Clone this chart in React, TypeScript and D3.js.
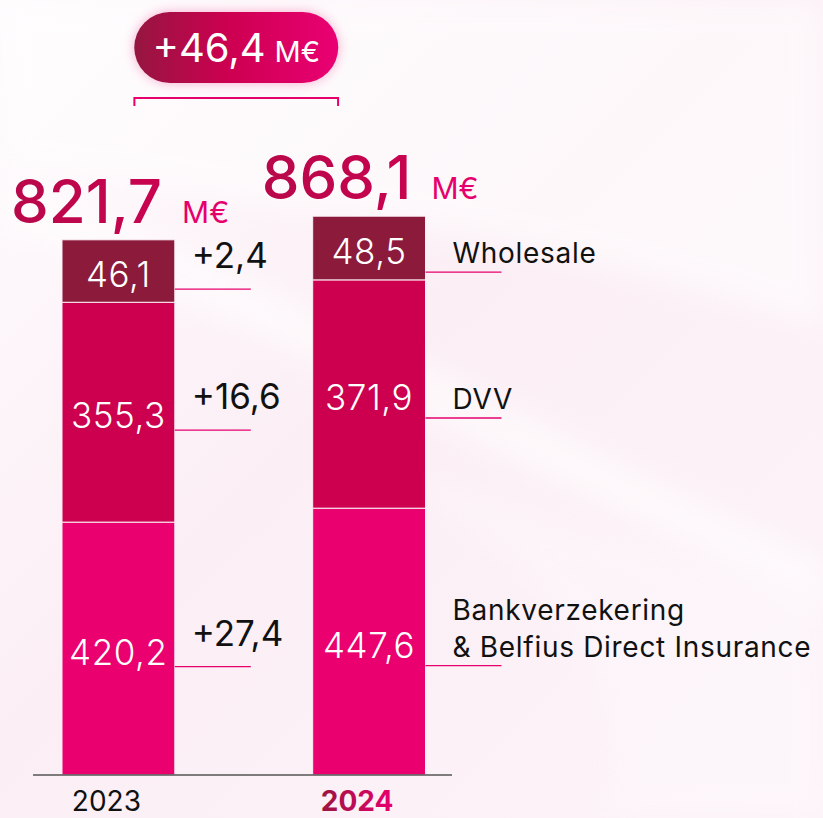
import React from "react";
import * as d3 from "d3";

const years = ["2023", "2024"];
const segmentNames = ["Bankverzekering & Belfius Direct Insurance", "DVV", "Wholesale"];
const bankValues = [420.2, 447.6];
const dvvValues = [355.3, 371.9];
const wholesaleValues = [46.1, 48.5];
const totals = [821.7, 868.1];
const unit = "M€";

const W = 823;
const H = 818;
const FONT = "Inter, 'Open Sans', sans-serif";
const segColors = ["#EA006F", "#CC004E", "#8B1A3B"];
const pink = "#E6006C";

const fmt = (v: number) => d3.format(".1f")(v).replace(".", ",");
const fmtDelta = (v: number) => (v >= 0 ? "+" : "") + fmt(v);

export default function App() {
  const baseY = 775;
  const x = d3.scaleBand<string>().domain(years).range([62, 425.5]).paddingInner(0.55).paddingOuter(0);
  const bw = x.bandwidth();
  // segment height scale (each segment gets a base height plus a proportional part)
  const h = d3.scaleLinear().domain([0, 500]).range([39, 293.5]);

  const seriesValues = [bankValues, dvvValues, wholesaleValues];
  const stacks = years.map((yr, i) => {
    let acc = baseY;
    return seriesValues.map((vals, s) => {
      const hh = h(vals[i]);
      const y1 = acc;
      const y0 = acc - hh;
      acc = y0;
      return { s, value: vals[i], y0, y1, mid: (y0 + y1) / 2 };
    });
  });
  const tops = stacks.map((st) => st[st.length - 1].y0);

  const c0 = (x(years[0]) as number) + bw / 2;
  const c1 = (x(years[1]) as number) + bw / 2;
  const brL = c0 + 16;
  const brR = c1 - 31;
  const badgeCx = (brL + brR) / 2;
  const totalDelta = totals[1] - totals[0];

  return (
    <svg width={W} height={H} style={{ position: "absolute", left: 0, top: 0, fontFamily: FONT }}>
      <defs>
        <linearGradient id="bg" x1="0" y1="0" x2="1" y2="1">
          <stop offset="0" stopColor="#FEFBFD" />
          <stop offset="0.45" stopColor="#FBEFF5" />
          <stop offset="1" stopColor="#FCF3F8" />
        </linearGradient>
        <linearGradient id="badge" x1="0" y1="0" x2="1" y2="0">
          <stop offset="0" stopColor="#951640" />
          <stop offset="0.45" stopColor="#CC0050" />
          <stop offset="1" stopColor="#EA0073" />
        </linearGradient>
        <linearGradient id="yr" x1="0" y1="0" x2="1" y2="0">
          <stop offset="0" stopColor="#9A1540" />
          <stop offset="1" stopColor="#E8006F" />
        </linearGradient>
        <linearGradient id="tot" x1="0" y1="0" x2="1" y2="0">
          <stop offset="0" stopColor="#B8084A" />
          <stop offset="1" stopColor="#D00052" />
        </linearGradient>
        <filter id="glow" x="-30%" y="-50%" width="160%" height="200%">
          <feGaussianBlur stdDeviation="6" />
        </filter>
        <filter id="soft" x="-10%" y="-10%" width="120%" height="120%">
          <feGaussianBlur stdDeviation="14" />
        </filter>
      </defs>

      <rect x={0} y={0} width={W} height={H} fill="url(#bg)" />
      <path d="M0,0 L823,0 L823,330 C600,250 300,200 0,170 Z" fill="#FFFFFF" opacity={0.55} filter="url(#soft)" />
      <path d="M0,175 C220,250 480,400 823,560 L823,610 C480,450 220,300 0,230 Z" fill="#FFFFFF" opacity={0.55} filter="url(#soft)" />
      <path d="M380,470 C560,520 700,560 823,600 L823,818 L600,818 C640,700 560,560 380,470 Z" fill="#FFFFFF" opacity={0.25} filter="url(#soft)" />

      {/* badge */}
      <rect x={badgeCx - 102} y={12} width={204} height={71} rx={35.5} fill="#F06AA8" opacity={0.55} filter="url(#glow)" />
      <rect x={badgeCx - 102} y={12} width={204} height={71} rx={35.5} fill="url(#badge)" />
      <text x={badgeCx} y={62} textAnchor="middle" fill="#FFFFFF" fontSize={40} fontWeight={400}>
        {fmtDelta(totalDelta)}
        <tspan fontSize={29} dx={9}>{unit}</tspan>
      </text>
      <path d={`M${brL},106 V98 H${brR} V106`} fill="none" stroke={pink} strokeWidth={2} />

      {/* bars */}
      {stacks.map((st, i) =>
        st.map((seg) => (
          <rect
            key={`${i}-${seg.s}`}
            x={x(years[i]) as number}
            y={seg.y0}
            width={bw}
            height={seg.y1 - seg.y0}
            fill={segColors[seg.s]}
            stroke="#FBEFF5"
            strokeWidth={1}
          />
        ))
      )}

      {/* inner value labels */}
      {stacks.map((st, i) =>
        st.map((seg) => (
          <text
            key={`v-${i}-${seg.s}`}
            x={(x(years[i]) as number) + bw / 2}
            y={seg.mid + 3}
            textAnchor="middle"
            dominantBaseline="central"
            fill="#FFFFFF"
            fontSize={35}
            fontWeight={300}
            letterSpacing={0.6}
          >
            {fmt(seg.value)}
          </text>
        ))
      )}

      {/* deltas next to 2023 */}
      {stacks[0].map((seg) => {
        const xr = (x(years[0]) as number) + bw;
        const d = seriesValues[seg.s][1] - seriesValues[seg.s][0];
        return (
          <g key={`d-${seg.s}`}>
            <text x={xr + 17} y={seg.mid - 3} fill="#111111" fontSize={35} fontWeight={400}>
              {fmtDelta(d)}
            </text>
            <line x1={xr} x2={xr + 76} y1={seg.mid + 18} y2={seg.mid + 18} stroke={pink} strokeWidth={1.3} />
          </g>
        );
      })}

      {/* segment names next to 2024 */}
      {stacks[1].map((seg) => {
        const xr = (x(years[1]) as number) + bw;
        const ly = seg.mid + 24;
        const name = segmentNames[seg.s];
        const parts = name.indexOf(" & ") >= 0 ? [name.split(" & ")[0], "& " + name.split(" & ")[1]] : [name];
        return (
          <g key={`n-${seg.s}`}>
            {parts.map((p, k) => (
              <text
                key={k}
                x={xr + 27}
                y={ly - 9 - (parts.length - 1 - k) * 37}
                fill="#111111"
                fontSize={28}
                fontWeight={400}
                letterSpacing={0.7}
              >
                {p}
              </text>
            ))}
            <line x1={xr} x2={xr + 76} y1={ly} y2={ly} stroke={pink} strokeWidth={1.3} />
          </g>
        );
      })}

      {/* totals */}
      {totals.map((t, i) => (
        <text
          key={`t-${i}`}
          x={(x(years[i]) as number) - 51}
          y={tops[i] - 17}
          fill="url(#tot)"
          fontSize={60}
          fontWeight={500}
        >
          {fmt(t)}
          <tspan fontSize={30} fontWeight={400} fill={pink} dx={20}>{unit}</tspan>
        </text>
      ))}

      {/* baseline */}
      <line x1={33} x2={452} y1={baseY} y2={baseY} stroke="#555555" strokeWidth={1.6} />

      {/* year labels */}
      {years.map((yr, i) => (
        <text
          key={yr}
          x={(x(yr) as number) + bw / 2 - 12}
          y={811}
          textAnchor="middle"
          fontSize={28}
          fontWeight={i === 1 ? 700 : 400}
          fill={i === 1 ? "url(#yr)" : "#111111"}
        >
          {yr}
        </text>
      ))}
    </svg>
  );
}
